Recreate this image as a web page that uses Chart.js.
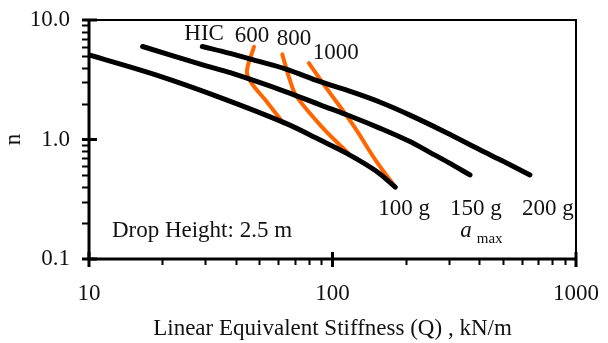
<!DOCTYPE html>
<html>
<head>
<meta charset="utf-8">
<script src="https://cdn.jsdelivr.net/npm/chart.js@4"></script>
<style>
  html, body { margin: 0; padding: 0; background: #fff; }
  #wrap { width: 608px; height: 343px; }
</style>
</head>
<body>
<div id="wrap"><canvas id="chart" width="608" height="343"></canvas></div>
<script>
// amax curves (black): stiffness Q (kN/m) and n
const q100 = [10, 18.8, 35.3, 64, 89, 114, 150, 181];
const n100 = [5.1, 3.47, 2.21, 1.37, 0.99, 0.77, 0.55, 0.40];
const q150 = [16.6, 30, 38, 64, 89, 120, 157, 208, 251, 300, 367];
const n150 = [6.0, 4.15, 3.62, 2.52, 1.95, 1.55, 1.24, 0.96, 0.78, 0.64, 0.505];
const q200 = [29.2, 38, 50, 64, 89, 120, 157, 208, 294, 403, 500, 647];
const n200 = [6.0, 5.25, 4.5, 3.9, 3.05, 2.5, 2.05, 1.6, 1.14, 0.82, 0.66, 0.505];

// HIC curves (orange)
const q600 = [47.6, 44.5, 46.6, 53.7, 62.8];
const n600 = [5.98, 3.69, 2.95, 2.07, 1.37];
const q800 = [62.2, 66.8, 71.3, 91.6, 116];
const n800 = [5.16, 3.15, 2.28, 1.24, 0.77];
const q1000 = [80, 94.6, 121.6, 151.7, 180.7];
const n1000 = [4.35, 2.68, 1.32, 0.652, 0.403];

// axis ticks
const xMajor = [10, 100, 1000];
const yMajor = [0.1, 1, 10];
const xMinor = [20, 30, 40, 50, 60, 70, 80, 90, 200, 300, 400, 500, 600, 700, 800, 900];
const yMinor = [0.2, 0.3, 0.4, 0.5, 0.6, 0.7, 0.8, 0.9, 2, 3, 4, 5, 6, 7, 8, 9];

// text notes anchored at data coordinates
const notes = [
    { text: 'HIC', q: 29.7, n: 7.59 },
    { text: '600', q: 46.7, n: 7.35 },
    { text: '800', q: 69.5, n: 7.0 },
    { text: '1000', q: 103, n: 5.35 },
    { text: '100 g', q: 197, n: 0.262 },
    { text: '150 g', q: 388, n: 0.262 },
    { text: '200 g', q: 767, n: 0.262 },
    { text: 'Drop Height: 2.5 m', q: 29.1, n: 0.173 }
];

function pts(qs, ns) {
    return qs.map((q, i) => ({ x: q, y: ns[i] }));
}

function curve(label, qs, ns, color, width) {
    return {
        label: label,
        data: pts(qs, ns),
        showLine: true,
        borderColor: color,
        borderWidth: width,
        pointRadius: 0,
        tension: 0.35,
        borderCapStyle: 'round',
        borderJoinStyle: 'round',
        fill: false
    };
}

const SERIF = '"Liberation Serif", "Times New Roman", serif';
const ORANGE = 'rgb(255, 102, 0)';

// frame, tick marks and notes
const decorPlugin = {
    id: 'decor',
    afterDatasetsDraw(chart) {
        const ctx = chart.ctx;
        const xs = chart.scales.x;
        const ys = chart.scales.y;
        const a = chart.chartArea;
        ctx.save();
        ctx.strokeStyle = '#000';
        ctx.lineCap = 'butt';

        // box
        ctx.lineWidth = 2;
        ctx.beginPath();
        ctx.moveTo(a.left, a.top);
        ctx.lineTo(a.right, a.top);
        ctx.lineTo(a.right, a.bottom);
        ctx.stroke();
        ctx.lineWidth = 3;
        ctx.beginPath();
        ctx.moveTo(a.left, a.top - 1);
        ctx.lineTo(a.left, a.bottom);
        ctx.lineTo(a.right + 1, a.bottom);
        ctx.stroke();

        // minor ticks (outside)
        ctx.lineWidth = 2;
        ctx.beginPath();
        yMinor.forEach(v => {
            const y = Math.round(ys.getPixelForValue(v)) + 0.5;
            ctx.moveTo(a.left - 7, y);
            ctx.lineTo(a.left, y);
        });
        xMinor.forEach(v => {
            const x = Math.round(xs.getPixelForValue(v)) + 0.5;
            ctx.moveTo(x, a.bottom);
            ctx.lineTo(x, a.bottom + 6);
        });
        ctx.stroke();

        // major ticks (crossing)
        ctx.lineWidth = 3;
        ctx.beginPath();
        yMajor.forEach(v => {
            const y = ys.getPixelForValue(v);
            ctx.moveTo(a.left - 7, y);
            ctx.lineTo(a.left + 8, y);
        });
        xMajor.forEach(v => {
            const x = xs.getPixelForValue(v);
            ctx.moveTo(x, a.bottom - 7);
            ctx.lineTo(x, a.bottom + 8);
        });
        ctx.stroke();

        // notes
        ctx.fillStyle = '#111';
        ctx.font = '23px ' + SERIF;
        ctx.textAlign = 'center';
        ctx.textBaseline = 'middle';
        notes.forEach(t => {
            ctx.fillText(t.text, xs.getPixelForValue(t.q), ys.getPixelForValue(t.n));
        });

        // a_max
        ctx.font = 'italic 23px ' + SERIF;
        ctx.fillText('a', xs.getPixelForValue(353), ys.getPixelForValue(0.173));
        ctx.font = '15px ' + SERIF;
        ctx.fillText('max', xs.getPixelForValue(442), ys.getPixelForValue(0.147));
        ctx.restore();
    }
};

const ctx = document.getElementById('chart').getContext('2d');
const chart = new Chart(ctx, {
    type: 'scatter',
    data: {
        datasets: [
            curve('100 g', q100, n100, '#000', 5),
            curve('150 g', q150, n150, '#000', 5),
            curve('200 g', q200, n200, '#000', 5),
            curve('HIC 600', q600, n600, ORANGE, 4),
            curve('HIC 800', q800, n800, ORANGE, 4),
            curve('HIC 1000', q1000, n1000, ORANGE, 4)
        ]
    },
    options: {
        responsive: false,
        animation: false,
        devicePixelRatio: 1,
        layout: { padding: { left: 0, top: 20, right: 32, bottom: 0 } },
        plugins: {
            legend: { display: false },
            tooltip: { enabled: false }
        },
        scales: {
            x: {
                type: 'logarithmic',
                min: 10,
                max: 1000,
                grid: { display: false, drawTicks: false },
                border: { display: false },
                afterFit(scale) {
                    scale.height = 84;
                    scale.paddingLeft = 0;
                    scale.paddingRight = 0;
                },
                afterBuildTicks(scale) {
                    scale.ticks = xMajor.map(v => ({ value: v }));
                },
                ticks: {
                    autoSkip: false,
                    maxRotation: 0,
                    padding: 21,
                    color: '#111',
                    font: { family: SERIF, size: 23 },
                    callback: v => String(v)
                },
                title: {
                    display: true,
                    text: 'Linear Equivalent Stiffness (Q) , kN/m',
                    color: '#111',
                    font: { family: SERIF, size: 23 },
                    padding: { top: 0, bottom: 0 }
                }
            },
            y: {
                type: 'logarithmic',
                min: 0.1,
                max: 10,
                grid: { display: false, drawTicks: false },
                border: { display: false },
                afterFit(scale) {
                    scale.width = 89;
                    scale.paddingTop = 0;
                    scale.paddingBottom = 0;
                },
                afterBuildTicks(scale) {
                    scale.ticks = yMajor.map(v => ({ value: v }));
                },
                ticks: {
                    autoSkip: false,
                    padding: 19,
                    color: '#111',
                    font: { family: SERIF, size: 23 },
                    callback: v => Number(v).toFixed(1)
                },
                title: {
                    display: true,
                    text: 'n',
                    color: '#111',
                    font: { family: SERIF, size: 23 },
                    padding: { top: 0, bottom: 0 }
                }
            }
        }
    },
    plugins: [decorPlugin]
});
</script>
</body>
</html>
